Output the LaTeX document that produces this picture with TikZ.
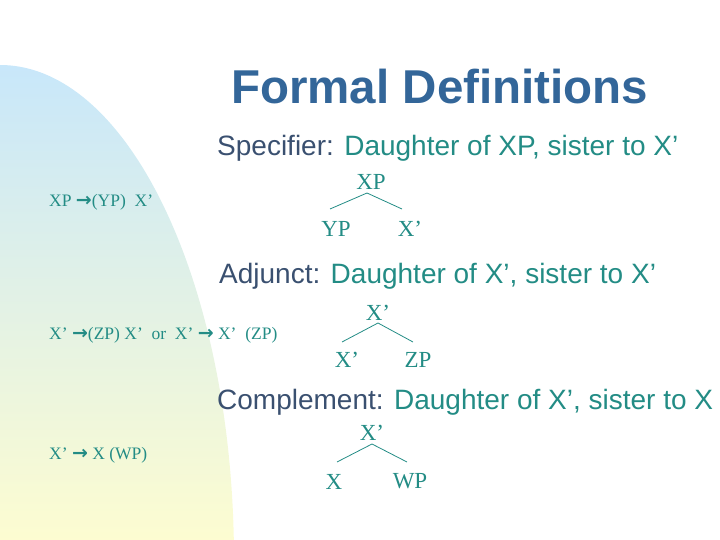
\documentclass[tikz,border=0pt]{standalone}
\usepackage{fontspec}
\setmainfont{Liberation Serif}
\newfontfamily\arial{Liberation Sans}
\newfontfamily\arr{DejaVu Sans}
\newcommand{\ra}{{\arr\bfseries\fontsize{19}{19}\selectfont →}}
\definecolor{teal1}{HTML}{238C85}
\definecolor{slate}{HTML}{3A5070}
\definecolor{titleblue}{HTML}{336699}
\definecolor{bgblue}{HTML}{C8E7FA}
\definecolor{bgyellow}{HTML}{FFFDCF}
\begin{document}
\begin{tikzpicture}[x=1pt,y=-1pt,
  title/.style={font=\arial\bfseries\fontsize{47.5}{50}\selectfont, text=titleblue, inner sep=0pt},
  heading/.style={font=\arial\fontsize{28}{30}\selectfont, text=teal1, inner sep=0pt, anchor=base west},
  rule/.style={font=\fontsize{17.5}{19}\selectfont, text=teal1, inner sep=0pt, anchor=base west},
  lab/.style={font=\fontsize{23}{25}\selectfont, text=teal1, inner sep=0pt},
  branch/.style={draw=teal1, line width=0.8pt}]
\useasboundingbox (0,0) rectangle (720,540);
\begin{scope}
\clip (0,0) rectangle (720,540);
\shade[top color=bgblue, bottom color=bgyellow] (0,560) -- (0,65) arc[start angle=-90, end angle=0, x radius=234, y radius=495] -- cycle;
\end{scope}
% title
\node[title, anchor=base west] (t) at (231,104) {Formal Definitions};
% headings
\node[heading] (h1) at (217,156) {\textcolor{slate}{Specifier:} Daughter of XP, sister to X’};
\node[heading] (h2) at (219,283) {\textcolor{slate}{Adjunct:} Daughter of X’, sister to X’};
\node[heading] (h3) at (217,409) {\textcolor{slate}{Complement:} Daughter of X’, sister to X};
% rules
\node[rule] (r1) at (49,207) {XP \ra(YP)\ \ X’};
\node[rule] (r2) at (49,339) {X’ \ra(ZP) X’\ \ or\ \ X’ \ra\ X’\ \ (ZP)};
\node[rule] (r3) at (49,459) {X’ \ra\ X (WP)};
% tree 1
\node[lab] (a1) at (371,182) {XP};
\node[lab] (b1) at (336,229) {YP};
\node[lab] (c1) at (410,229) {X’};
\coordinate (a1t) at (367,193);
\coordinate (b1t) at (330,209);
\coordinate (c1t) at (402,209);
\draw[branch] (b1t) -- (a1t) -- (c1t);
% tree 2
\node[lab] (a2) at (378,313) {X’};
\node[lab] (b2) at (347,360) {X’};
\node[lab] (c2) at (418,360) {ZP};
\coordinate (a2t) at (378,323);
\coordinate (b2t) at (342,342);
\coordinate (c2t) at (413,342);
\draw[branch] (b2t) -- (a2t) -- (c2t);
% tree 3
\node[lab] (a3) at (372,433) {X’};
\node[lab] (b3) at (334,482) {X};
\node[lab] (c3) at (410,481) {WP};
\coordinate (a3t) at (372,444);
\coordinate (b3t) at (337,462);
\coordinate (c3t) at (407,462);
\draw[branch] (b3t) -- (a3t) -- (c3t);
\end{tikzpicture}
\end{document}
